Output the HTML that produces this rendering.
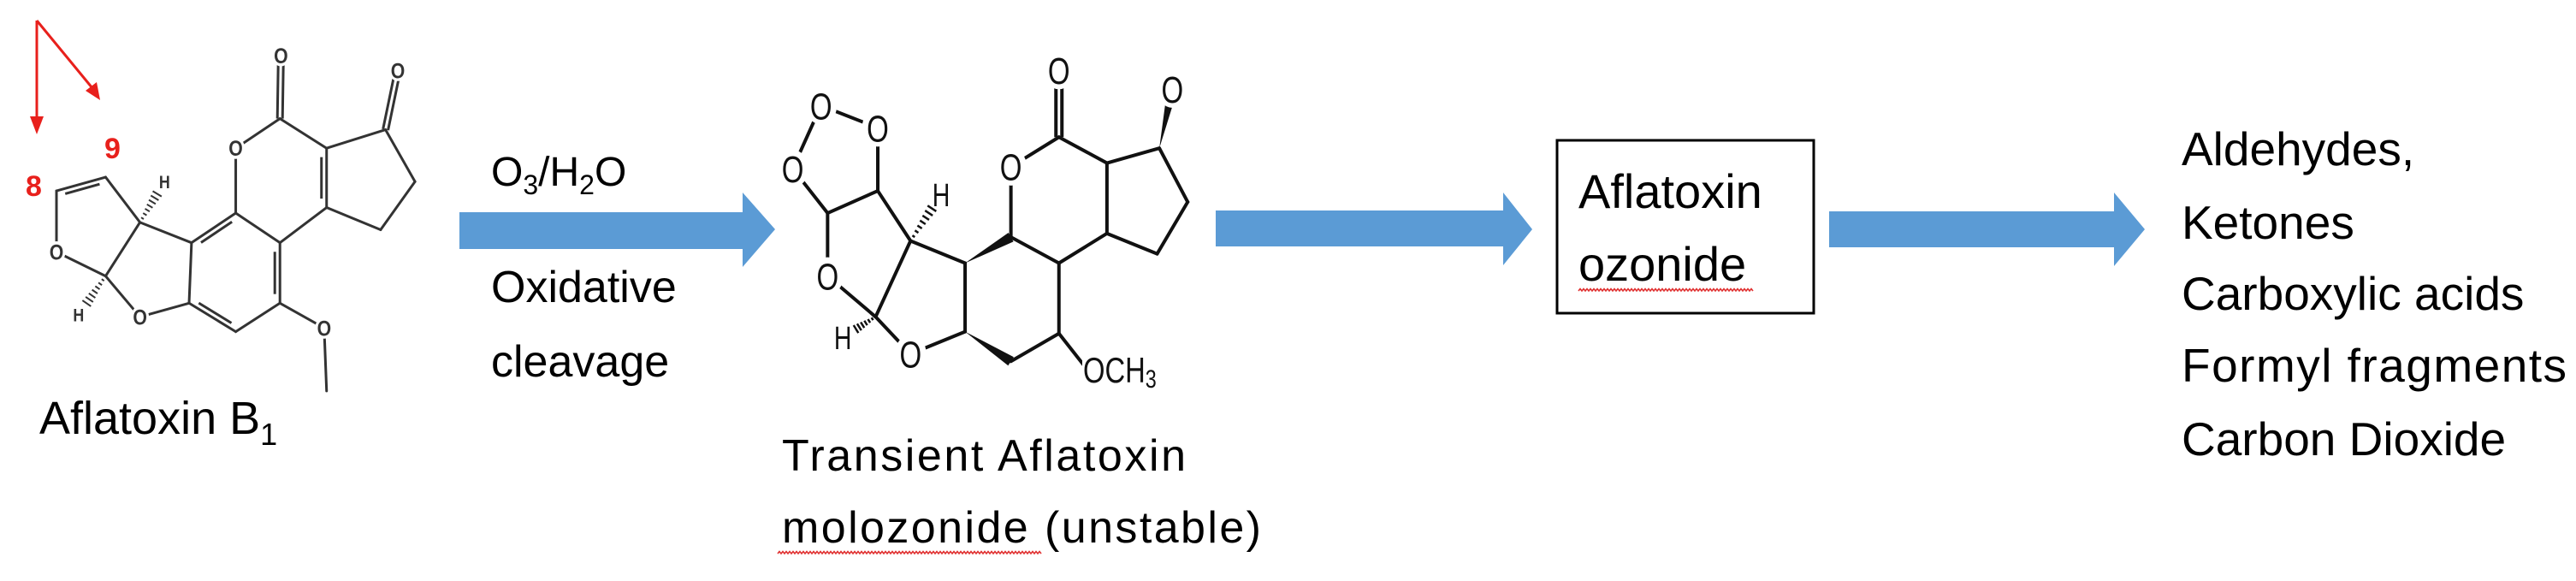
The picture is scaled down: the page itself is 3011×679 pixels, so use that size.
<!DOCTYPE html>
<html><head><meta charset="utf-8"><style>
html,body{margin:0;padding:0;background:#fff;}
svg{display:block;}
text{font-family:"Liberation Sans",sans-serif;}
</style></head><body>
<svg id="s" xmlns="http://www.w3.org/2000/svg" width="3011" height="679" viewBox="0 0 3011 679">
<rect width="3011" height="679" fill="#fff"/>
<!-- blue arrows -->
<polygon points="537,248 868,248 868,225 906,268 868,312 868,291 537,291" fill="#5B9BD5"/>
<polygon points="1421,246 1757,246 1757,225 1791,268 1757,310 1757,288 1421,288" fill="#5B9BD5"/>
<polygon points="2138,247 2471,247 2471,225 2507,268 2471,311 2471,289 2138,289" fill="#5B9BD5"/>
<!-- box -->
<rect x="1820" y="164" width="300" height="202" fill="#fff" stroke="#000" stroke-width="3"/>
<text x="1845" y="243" font-size="56">Aflatoxin</text>
<text x="1845" y="328" font-size="56">ozonide</text>
<path id="sq1" fill="none" stroke="#e03030" stroke-width="1.6"/>
<!-- reaction labels -->
<text x="574" y="217" font-size="48">O<tspan font-size="32" dy="10">3</tspan><tspan dy="-10">/H</tspan><tspan font-size="32" dy="10">2</tspan><tspan dy="-10">O</tspan></text>
<text x="574" y="353" font-size="52">Oxidative</text>
<text x="574" y="440" font-size="52">cleavage</text>
<text x="46" y="507" font-size="54">Aflatoxin B<tspan font-size="36" dy="13">1</tspan></text>
<text x="914" y="550" font-size="52" textLength="472">Transient Aflatoxin</text>
<text x="914" y="634" font-size="52" textLength="560">molozonide (unstable)</text>
<path id="sq2" fill="none" stroke="#e03030" stroke-width="1.6"/>
<!-- products -->
<g font-size="55">
<text x="2550" y="193">Aldehydes,</text>
<text x="2550" y="279">Ketones</text>
<text x="2550" y="362">Carboxylic acids</text>
<text x="2550" y="446" textLength="450">Formyl fragments</text>
<text x="2550" y="532">Carbon Dioxide</text>
</g>
<!-- red arrows -->
<g stroke="#e8201c" stroke-width="3" fill="none">
<line x1="43" y1="24" x2="43" y2="140"/>
<line x1="43" y1="24" x2="108" y2="103"/>
</g>
<polygon points="35,136 51,136 43,157" fill="#e8201c"/>
<polygon points="100,106 113,96 117,117" fill="#e8201c"/>
<text x="30" y="229" font-size="34" font-weight="bold" fill="#e8201c">8</text>
<text x="122" y="185" font-size="34" font-weight="bold" fill="#e8201c">9</text>
<g id="m1"></g>
<g id="m2"></g>
</svg>
<script>
var NS="http://www.w3.org/2000/svg";
function el(p,t,a,txt){var e=document.createElementNS(NS,t);for(var k in a)e.setAttribute(k,a[k]);if(txt!=null)e.textContent=txt;p.appendChild(e);return e;}
function squig(id,x1,x2,y){var d="M"+x1+" "+y;var up=true;for(var x=x1;x<x2;x+=4){d+=" L"+(x+2)+" "+(y+(up?-2.5:2.5))+" L"+(x+4)+" "+y;}
document.getElementById(id).setAttribute("d",d);}
squig("sq1",1845,2047,340);squig("sq2",909,1217,647);
var S=2.309;
function draw(gid,def){
 var g=document.getElementById(gid);var A={};
 for(var k in def.atoms){var p=def.atoms[k];A[k]=[def.ox+p[0]/def.sx,p[1]/S];}
 var col=def.col,sw=def.sw;
 def.bonds.forEach(function(b){
  var a=A[b[0]],c=A[b[1]],t=b[2]||'s';
  var dx=c[0]-a[0],dy=c[1]-a[1],L=Math.hypot(dx,dy),nx=-dy/L,ny=dx/L;
  if(t=='s'||t=='d'||t=='dd'){el(g,'line',{x1:a[0],y1:a[1],x2:c[0],y2:c[1],stroke:col,'stroke-width':sw,'stroke-linecap':'round'});}
  if(t=='d'){var cen=A[b[3]];var mx=(a[0]+c[0])/2,my=(a[1]+c[1])/2;var s=((cen[0]-mx)*nx+(cen[1]-my)*ny)>0?1:-1;var o=def.off*s;
   var f=0.15;el(g,'line',{x1:a[0]+dx*f+nx*o,y1:a[1]+dy*f+ny*o,x2:c[0]-dx*f+nx*o,y2:c[1]-dy*f+ny*o,stroke:col,'stroke-width':sw});}
  if(t=='dd'){ // carbonyl double: two lines
   g.lastChild.remove();var o=def.off/2;
   [o,-o].forEach(function(q){el(g,'line',{x1:a[0]+nx*q,y1:a[1]+ny*q,x2:c[0]+nx*q,y2:c[1]+ny*q,stroke:col,'stroke-width':sw});});}
  if(t=='w'){var w=def.ww;el(g,'polygon',{points:a[0]+','+a[1]+' '+(c[0]+nx*w)+','+(c[1]+ny*w)+' '+(c[0]-nx*w)+','+(c[1]-ny*w),fill:col});}
  if(t=='h'){var n=7;for(var i=1;i<=n;i++){var f=i/(n+1)*0.8;var w=def.ww*f*1.2+1;var px=a[0]+dx*f,py=a[1]+dy*f;
   el(g,'line',{x1:px+nx*w,y1:py+ny*w,x2:px-nx*w,y2:py-ny*w,stroke:col,'stroke-width':def.hw});}}
 });
 def.labels.forEach(function(l){var p=A[l[0]];var fs=l[2]||def.fs;
  el(g,'ellipse',{cx:p[0],cy:p[1],rx:fs*0.42,ry:fs*0.5,fill:'#fff'});
  el(g,'text',{x:p[0],y:p[1]+fs*0.36,'font-size':fs,'text-anchor':'middle',fill:col,'font-weight':def.fw,transform:'translate('+p[0]+' 0) scale('+def.nx+' 1) translate('+(-p[0])+' 0)'},l[1]);});
}
draw('m1',{ox:0,sx:1.742,col:'#333',sw:3,off:6,ww:6,hw:2,fs:25,fw:'bold',nx:0.85,
atoms:{C8:[115,515],C9:[215,478],O1:[115,680],Ca:[215,745],Cj:[285,600],Hj:[335,490],Ha:[160,850],O2:[285,855],
a1:[390,655],a2:[480,575],a3:[570,655],a4:[570,818],a5:[480,895],a6:[385,818],O3:[480,400],Cc:[570,320],Oc:[572,150],
Cd:[665,400],Ce:[665,560],Ck:[785,350],Ok:[810,190],Cf:[845,490],Cg:[775,620],Om:[660,885],Me:[665,1055]},
bonds:[['C8','C9','d','Cj'],['C8','O1'],['O1','Ca'],['Ca','Cj'],['Cj','C9'],['Cj','Hj','h'],['Ca','Ha','h'],['Ca','O2'],['O2','a6'],['Cj','a1'],
['a1','a2','d','a4'],['a2','a3'],['a3','a4','d','a1'],['a4','a5'],['a5','a6','d','a2'],['a6','a1'],['a2','O3'],['O3','Cc'],['Cc','Oc','dd'],['Cc','Cd'],
['Cd','Ce','d','a2'],['Ce','a3'],['Cd','Ck'],['Ck','Ok','dd'],['Ck','Cf'],['Cf','Cg'],['Cg','Ce'],['a4','Om'],['Om','Me']],
labels:[['O1','O'],['O2','O'],['O3','O'],['Oc','O'],['Ok','O'],['Om','O'],['Hj','H',21],['Ha','H',21]]});
draw('m2',{ox:850,sx:1.96,col:'#111',sw:4,off:7,ww:6,hw:2.5,fs:44,fw:'normal',nx:0.75,
atoms:{Oa:[215,285],Ob:[345,345],Oc:[150,455],Ct:[230,575],Cu:[345,515],Od:[230,745],Cv:[340,855],Cj:[420,650],H1:[490,525],H2:[265,910],Oe:[420,955],
b1:[545,710],b2:[650,640],b3:[760,710],b4:[760,900],b5:[650,975],b6:[545,895],Of:[650,450],Cg:[760,370],Og:[760,190],Ch:[870,440],Ci:[870,630],
Ck:[990,400],Ok:[1020,240],Cl:[1055,545],Cm:[985,685],OM:[820,990]},
bonds:[['Oc','Oa'],['Oa','Ob'],['Ob','Cu'],['Cu','Ct'],['Ct','Oc'],['Ct','Od'],['Od','Cv'],['Cv','Cj'],['Cj','Cu'],['Cj','H1','h'],['Cv','H2','h'],['Cv','Oe'],['Oe','b6'],['Cj','b1'],
['b1','b2','w'],['b2','b3'],['b3','b4'],['b4','b5'],['b6','b5','w'],['b6','b1'],['b2','Of'],['Of','Cg'],['Cg','Og','dd'],['Cg','Ch'],['Ch','Ci'],['Ci','b3'],['Ch','Ck'],['Ck','Ok','w'],['Ck','Cl'],['Cl','Cm'],['Cm','Ci'],['b4','OM']],
labels:[['Oa','O'],['Ob','O'],['Oc','O'],['Od','O'],['Oe','O'],['Of','O'],['Og','O'],['Ok','O'],['H1','H',38],['H2','H',38]]});
var g2=document.getElementById('m2');
el(g2,'rect',{x:1265,y:410,width:70,height:40,fill:'#fff'});
var t=el(g2,'text',{x:1266,y:447,'font-size':42,fill:'#111',transform:'translate(1266 0) scale(0.78 1) translate(-1266 0)'});
t.innerHTML='OCH<tspan font-size="30" dy="6">3</tspan>';
</script>
</body></html>
